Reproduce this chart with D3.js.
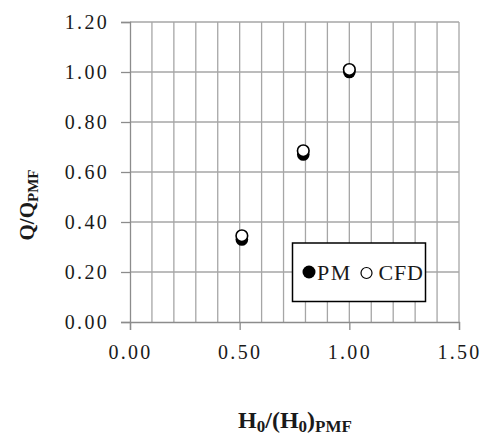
<!DOCTYPE html>
<html>
<head>
<meta charset="utf-8">
<script src="https://cdn.jsdelivr.net/npm/d3@7"></script>
<style>
  body { margin: 0; background: #fff; }
  text { font-family: "Liberation Serif", "Times New Roman", serif; fill: #1a1a1a; }
</style>
</head>
<body>
<svg id="chart" width="480" height="440"></svg>
<script>
// values
const ratioH = [0.51, 0.79, 1.00]
const pmQ = [0.33, 0.67, 1.00]
const cfdQ = [0.345, 0.685, 1.01]
const xTicks = [0, 0.5, 1.0, 1.5]
const yTicks = [0, 0.2, 0.4, 0.6, 0.8, 1.0, 1.2]

const svg = d3.select("#chart")

const x = d3.scaleLinear().domain([0, 1.5]).range([130, 459])
const y = d3.scaleLinear().domain([0, 1.2]).range([322, 22])

// vertical grid every 0.1
svg.append("g")
    .selectAll("line")
    .data(d3.range(1, 16).map(i => i / 10))
    .enter().append("line")
    .attr("x1", d => x(d)).attr("x2", d => x(d))
    .attr("y1", y(0)).attr("y2", y(1.2))
    .attr("stroke", "#a6a6a6")
    .attr("stroke-width", 1.3)

// horizontal grid at major ticks
svg.append("g")
    .selectAll("line")
    .data(yTicks.slice(1))
    .enter().append("line")
    .attr("x1", x(0)).attr("x2", x(1.5))
    .attr("y1", d => y(d)).attr("y2", d => y(d))
    .attr("stroke", "#a6a6a6")
    .attr("stroke-width", 1.3)

const fmt = d3.format(".2f")

const yAxis = svg.append("g")
    .attr("transform", `translate(${x(0)},0)`)
    .call(d3.axisLeft(y).tickValues(yTicks).tickFormat(fmt).tickSize(9).tickPadding(14))
const xAxis = svg.append("g")
    .attr("transform", `translate(0,${y(0)})`)
    .call(d3.axisBottom(x).tickValues(xTicks).tickFormat(fmt).tickSize(8).tickPadding(12))

for (const ax of [yAxis, xAxis]) {
    ax.select(".domain").attr("stroke", "#8c8c8c").attr("stroke-width", 1.3)
    ax.selectAll(".tick line").attr("stroke", "#8c8c8c").attr("stroke-width", 1.3)
    ax.selectAll(".tick text")
        .style("font-family", '"Liberation Serif", serif')
        .style("font-size", "20px")
        .style("letter-spacing", "2.3px")
        .attr("fill", "#1a1a1a")
}
yAxis.selectAll(".tick text").attr("dx", "2px")
xAxis.selectAll(".tick text").attr("dy", "0.85em")

// points: PM underneath, CFD on top
svg.append("g")
    .selectAll("circle")
    .data(ratioH.map((h, i) => [h, pmQ[i]]))
    .enter().append("circle")
    .attr("cx", d => x(d[0])).attr("cy", d => y(d[1]))
    .attr("r", 6.3)
    .attr("fill", "#000")

svg.append("g")
    .selectAll("circle")
    .data(ratioH.map((h, i) => [h, cfdQ[i]]))
    .enter().append("circle")
    .attr("cx", d => x(d[0])).attr("cy", d => y(d[1]))
    .attr("r", 5.8)
    .attr("fill", "#fff")
    .attr("stroke", "#000")
    .attr("stroke-width", 1.6)

// legend
const lg = svg.append("g")
lg.append("rect")
    .attr("x", 292.5).attr("y", 243)
    .attr("width", 133).attr("height", 58.5)
    .attr("fill", "#fff")
    .attr("stroke", "#000")
    .attr("stroke-width", 1.5)
lg.append("circle").attr("cx", 309).attr("cy", 272).attr("r", 6.5).attr("fill", "#000")
lg.append("text").attr("x", 317).attr("y", 279.5)
    .style("font-size", "22px").style("letter-spacing", "1.5px").text("PM")
lg.append("circle").attr("cx", 366.5).attr("cy", 273).attr("r", 5.5)
    .attr("fill", "#fff").attr("stroke", "#000").attr("stroke-width", 1.2)
lg.append("text").attr("x", 378.5).attr("y", 279.5)
    .style("font-size", "22px").style("letter-spacing", "0.8px").text("CFD")

// axis titles
const xt = svg.append("text")
    .attr("x", 295).attr("y", 428)
    .attr("text-anchor", "middle")
    .style("font-size", "24px").style("font-weight", "bold")
xt.append("tspan").text("H")
xt.append("tspan").attr("dy", 4).style("font-size", "17px").text("0")
xt.append("tspan").attr("dy", -4).text("/(H")
xt.append("tspan").attr("dy", 4).style("font-size", "17px").text("0")
xt.append("tspan").attr("dy", -4).text(")")
xt.append("tspan").attr("dy", 4).style("font-size", "17px").text("PMF")

const yt = svg.append("text")
    .attr("transform", "translate(34,205) rotate(-90)")
    .attr("text-anchor", "middle")
    .style("font-size", "21px").style("font-weight", "bold")
yt.append("tspan").text("Q/Q")
yt.append("tspan").attr("dy", 4).style("font-size", "15px").text("PMF")
</script>
</body>
</html>
